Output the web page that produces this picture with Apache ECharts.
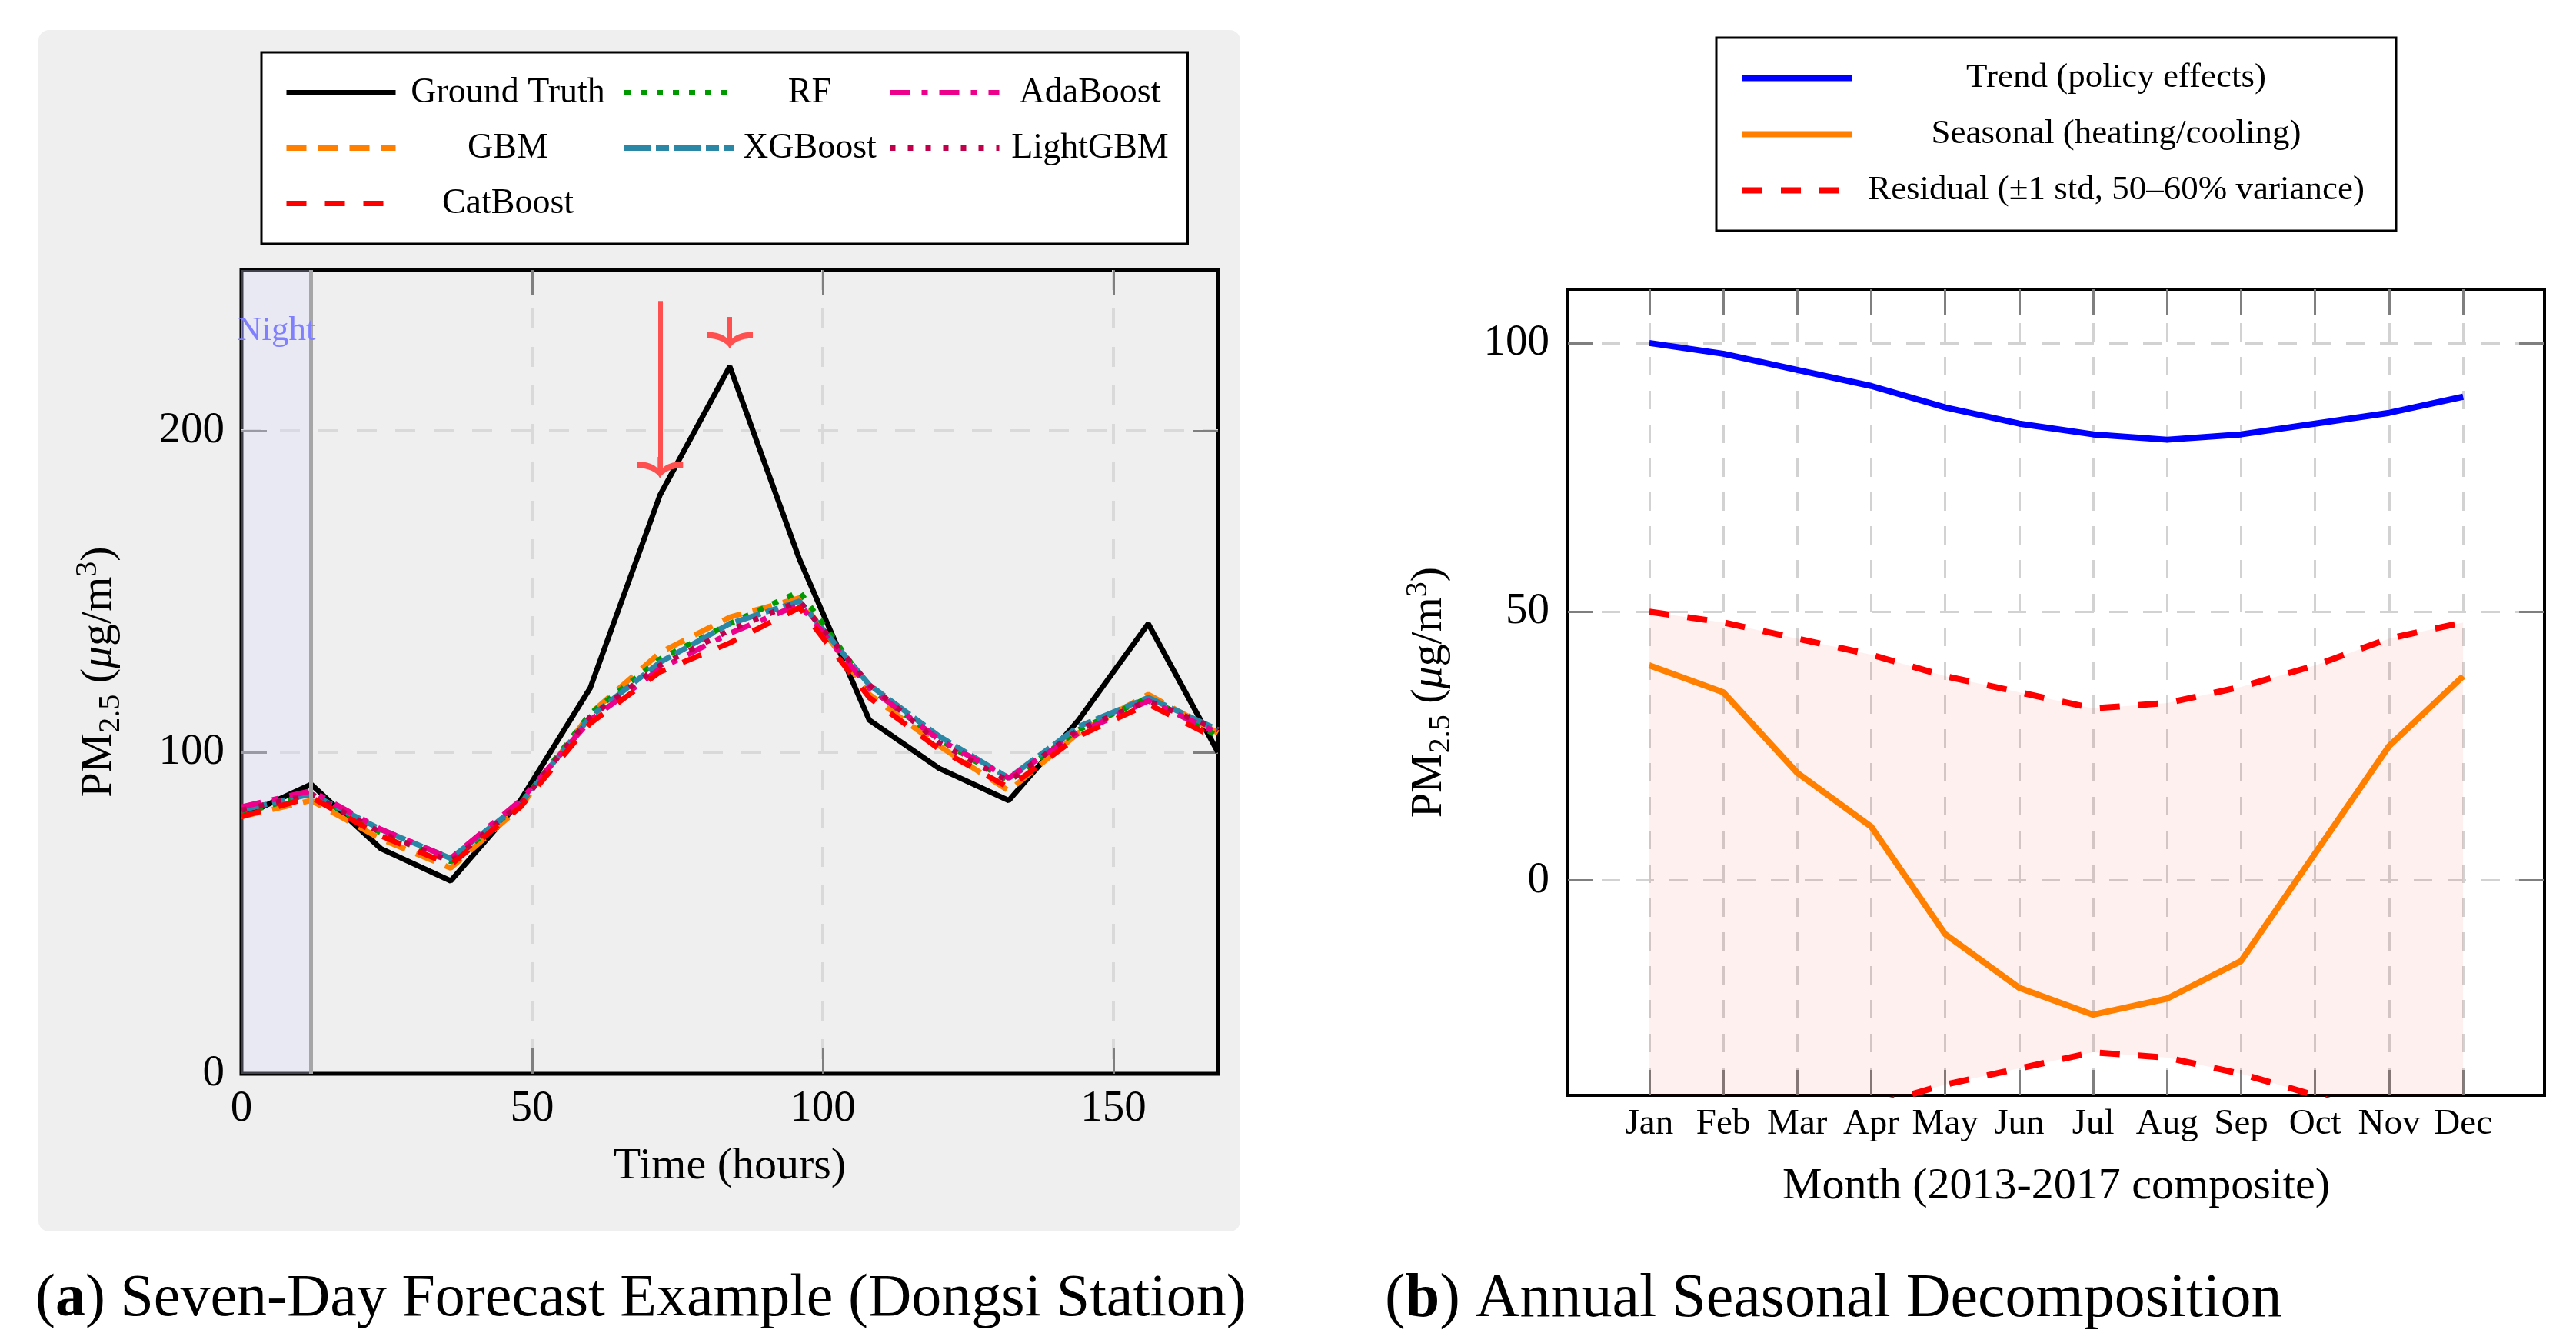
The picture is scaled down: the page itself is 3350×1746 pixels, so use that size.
<!DOCTYPE html>
<html>
<head>
<meta charset="utf-8">
<script src="https://cdn.jsdelivr.net/npm/echarts@6/dist/echarts.min.js"></script>
<style>
html, body { margin: 0; padding: 0; background: #fff; }
#chart { width: 3350px; height: 1746px; }
</style>
</head>
<body>
<div id="chart"></div>
<script>
// (a) 七天预测
const hours = [0, 12, 24, 36, 48, 60, 72, 84, 96, 108, 120, 132, 144, 156, 168];
const groundTruth = [80, 90, 70, 60, 85, 120, 180, 220, 160, 110, 95, 85, 110, 140, 100];
const gbm = [80, 85, 73, 64, 83, 112, 131, 142, 148, 118, 102, 88, 106, 118, 106];
const rf = [81, 87, 75, 66, 84, 112, 129, 140, 150, 120, 104, 91, 107, 117, 105];
const xgboost = [82, 87, 76, 67, 84, 111, 128, 140, 147, 121, 105, 92, 108, 117, 107];
const adaboost = [83, 88, 76, 67, 85, 110, 126, 137, 146, 120, 104, 92, 106, 116, 106];
const lightgbm = [82, 87, 75, 66, 84, 111, 127, 138, 147, 121, 103, 91, 107, 116, 107];
const catboost = [80, 86, 74, 65, 83, 109, 125, 134, 145, 117, 101, 89, 105, 115, 104];
const xLabelsA = [0, 50, 100, 150];
const xTicksA = [50, 100, 150];
const yLabelsA = [0, 100, 200];
const yTicksA = [100, 200];
const nightRange = [0, 12];
const arrowFrom = [[72, 240.4], [84, 235.4]];
const arrowTo = [[72, 188.5], [84, 228.8]];

// (b) 季节分解
const months = ['Jan', 'Feb', 'Mar', 'Apr', 'May', 'Jun', 'Jul', 'Aug', 'Sep', 'Oct', 'Nov', 'Dec'];
const monthPos = [1, 2, 3, 4, 5, 6, 7, 8, 9, 10, 11, 12];
const trend = [100, 98, 95, 92, 88, 85, 83, 82, 83, 85, 87, 90];
const seasonal = [40, 35, 20, 10, -10, -20, -25, -22, -15, 5, 25, 38];
const residualUpper = [50, 48, 45, 42, 38, 35, 32, 33, 36, 40, 45, 48];
const residualLower = [-50, -48, -45, -42, -38, -35, -32, -33, -36, -40, -45, -48];
const yTicksB = [0, 50, 100];

const FONT = "'Liberation Serif', 'DejaVu Serif', serif";
const legendOrderA = ['Ground Truth', 'RF', 'AdaBoost', 'GBM', 'XGBoost', 'LightGBM', 'CatBoost'];

const pairs = (xs, ys) => xs.map((x, i) => [x, ys[i]]);

// 箭头（弯曲的 V 形），尖端朝上，宽 60 高 28
const arrowHead = 'path://M30,0 C26,9 15,13 0,14 L0,22 C14,22 23,18 27,13 L27,28 L33,28 L33,13 C37,18 46,22 60,22 L60,14 C45,13 34,9 30,0 Z';

const gridLineA = { show: true, lineStyle: { color: '#d9d9d9', width: 4, type: [26, 24] } };
const gridLineB = { show: true, lineStyle: { color: '#d2d2d2', width: 3, type: [24, 20] } };
const tickStyle = { show: true, inside: true, length: 33, lineStyle: { color: '#7f7f7f', width: 3 } };
const ticks = (vals) => Object.assign({ customValues: vals }, tickStyle);
const noLine = { show: false, onZero: false };
const pmName = 'PM{sub|2.5} ({mu|μ}g/m{sup|3})';
const pmRich = {
	sub: { fontSize: 40, lineHeight: 40, verticalAlign: 'bottom', fontFamily: FONT, color: '#000' },
	sup: { fontSize: 40, lineHeight: 40, verticalAlign: 'top', fontFamily: FONT, color: '#000' },
	mu: { fontSize: 58, fontStyle: 'italic', fontFamily: FONT, color: '#000' },
};

function modelLine(name, data, color, dash) {
	return {
		name: name,
		type: 'line',
		xAxisIndex: 0,
		yAxisIndex: 0,
		data: pairs(hours, data),
		symbol: 'none',
		showSymbol: false,
		z: 4,
		lineStyle: { color: color, width: 7, type: dash },
		itemStyle: { color: color },
	};
}

function lineB(name, data, color, dash) {
	return {
		name: name,
		type: 'line',
		xAxisIndex: 2,
		yAxisIndex: 2,
		data: pairs(monthPos, data),
		symbol: 'none',
		showSymbol: false,
		z: 3,
		lineStyle: { color: color, width: 8, type: dash },
		itemStyle: { color: color },
	};
}

const chart = echarts.init(document.getElementById('chart'));

const option = {
	animation: false,
	backgroundColor: '#fff',
	graphic: [
		{
			type: 'rect',
			z: -10,
			silent: true,
			shape: { x: 50, y: 39, width: 1563, height: 1562, r: 14 },
			style: { fill: '#efefef' },
		},
	],
	title: [
		{
			text: '({b|a}) Seven-Day Forecast Example (Dongsi Station)',
			left: 41,
			top: 1640,
			textStyle: {
				fontFamily: FONT, fontSize: 78, fontWeight: 'normal', color: '#000', lineHeight: 90,
				rich: { b: { fontFamily: FONT, fontSize: 78, fontWeight: 'bold', color: '#000', lineHeight: 90 } },
			},
		},
		{
			text: '({b|b}) Annual Seasonal Decomposition',
			left: 1796,
			top: 1640,
			textStyle: {
				fontFamily: FONT, fontSize: 80, fontWeight: 'normal', color: '#000', lineHeight: 90,
				rich: { b: { fontFamily: FONT, fontSize: 80, fontWeight: 'bold', color: '#000', lineHeight: 90 } },
			},
		},
	],
	legend: [
		{
			orient: 'horizontal',
			left: 340,
			top: 68,
			width: 1215,
			padding: [20, 14, 20, 29],
			itemWidth: 142,
			itemHeight: 20,
			itemGap: 7,
			backgroundColor: '#fff',
			borderColor: '#000',
			borderWidth: 3,
			borderRadius: 0,
			selectedMode: false,
			data: legendOrderA,
			itemStyle: { opacity: 0 },
			lineStyle: { width: 7 },
			formatter: (name) => '{c' + (legendOrderA.indexOf(name) % 3) + '|' + name + '}',
			textStyle: {
				fontFamily: FONT, fontSize: 46, color: '#000', lineHeight: 65, height: 65,
				rich: {
					c0: { width: 282, height: 65, align: 'center', fontFamily: FONT, fontSize: 46, lineHeight: 65, color: '#000' },
					c1: { width: 188, height: 65, align: 'center', fontFamily: FONT, fontSize: 46, lineHeight: 65, color: '#000' },
					c2: { width: 226, height: 65, align: 'center', fontFamily: FONT, fontSize: 46, lineHeight: 65, color: '#000' },
				},
			},
		},
		{
			orient: 'vertical',
			left: 2232,
			top: 49,
			padding: [30, 26, 30, 30],
			itemWidth: 143,
			itemHeight: 20,
			itemGap: 28,
			backgroundColor: '#fff',
			borderColor: '#000',
			borderWidth: 3,
			borderRadius: 0,
			selectedMode: false,
			data: ['Trend (policy effects)', 'Seasonal (heating/cooling)', 'Residual (±1 std, 50–60% variance)'],
			itemStyle: { opacity: 0 },
			lineStyle: { width: 8 },
			formatter: (name) => '{c|' + name + '}',
			textStyle: {
				fontFamily: FONT, fontSize: 45, color: '#000',
				rich: { c: { width: 676, align: 'center', fontFamily: FONT, fontSize: 45, lineHeight: 50, color: '#000' } },
			},
		},
	],
	grid: [
		{ left: 314, top: 351, width: 1270, height: 1045, show: true, backgroundColor: 'transparent', borderColor: '#000', borderWidth: 5 },
		{ left: 2039, top: 376, width: 1270, height: 1048, show: true, backgroundColor: 'transparent', borderColor: '#000', borderWidth: 4 },
	],
	xAxis: [
		{
			type: 'value', gridIndex: 0, min: 0, max: 168,
			name: 'Time (hours)', nameLocation: 'middle', nameGap: 92,
			nameTextStyle: { fontFamily: FONT, fontSize: 58, color: '#000' },
			axisLine: noLine,
			axisTick: ticks(xTicksA),
			splitLine: gridLineA,
			axisLabel: { customValues: xLabelsA, fontFamily: FONT, fontSize: 57, color: '#000', margin: 18 },
		},
		{
			type: 'value', gridIndex: 0, min: 0, max: 168, position: 'top',
			axisLine: noLine, axisTick: ticks(xTicksA), splitLine: { show: false }, axisLabel: { show: false },
		},
		{
			type: 'value', gridIndex: 1, min: -0.1, max: 13.1,
			name: 'Month (2013-2017 composite)', nameLocation: 'middle', nameGap: 90,
			nameTextStyle: { fontFamily: FONT, fontSize: 58, color: '#000' },
			axisLine: noLine,
			axisTick: ticks(monthPos),
			splitLine: gridLineB,
			axisLabel: {
				customValues: monthPos, fontFamily: FONT, fontSize: 47, color: '#000', margin: 14,
				formatter: (v) => months[Math.round(v) - 1],
			},
		},
		{
			type: 'value', gridIndex: 1, min: -0.1, max: 13.1, position: 'top',
			axisLine: noLine, axisTick: ticks(monthPos), splitLine: { show: false }, axisLabel: { show: false },
		},
	],
	yAxis: [
		{
			type: 'value', gridIndex: 0, min: 0, max: 250,
			name: pmName, nameLocation: 'middle', nameGap: 150, nameRotate: 90,
			nameTextStyle: { fontFamily: FONT, fontSize: 58, color: '#000', lineHeight: 70, rich: pmRich },
			axisLine: noLine,
			axisTick: ticks(yTicksA),
			splitLine: gridLineA,
			axisLabel: { customValues: yLabelsA, fontFamily: FONT, fontSize: 57, color: '#000', margin: 22 },
		},
		{
			type: 'value', gridIndex: 0, min: 0, max: 250, position: 'right',
			axisLine: noLine, axisTick: ticks(yTicksA), splitLine: { show: false }, axisLabel: { show: false },
		},
		{
			type: 'value', gridIndex: 1, min: -40, max: 110,
			name: pmName, nameLocation: 'middle', nameGap: 145, nameRotate: 90,
			nameTextStyle: { fontFamily: FONT, fontSize: 58, color: '#000', lineHeight: 70, rich: pmRich },
			axisLine: noLine,
			axisTick: ticks(yTicksB),
			splitLine: gridLineB,
			axisLabel: { customValues: yTicksB, fontFamily: FONT, fontSize: 57, color: '#000', margin: 24 },
		},
		{
			type: 'value', gridIndex: 1, min: -40, max: 110, position: 'right',
			axisLine: noLine, axisTick: ticks(yTicksB), splitLine: { show: false }, axisLabel: { show: false },
		},
	],
	series: [
		// 夜间阴影 + 标注
		{
			name: 'night',
			type: 'line',
			xAxisIndex: 0,
			yAxisIndex: 0,
			data: [],
			z: 1,
			silent: true,
			markArea: {
				silent: true,
				itemStyle: { color: 'rgba(220,220,255,0.3)' },
				label: { show: false },
				data: [[{ xAxis: nightRange[0] }, { xAxis: nightRange[1] }]],
			},
			markLine: {
				silent: true,
				symbol: ['none', 'none'],
				label: { show: false },
				lineStyle: { color: '#a6a6a6', width: 5, type: 'solid' },
				data: [{ xAxis: nightRange[1] }],
			},
			markPoint: {
				silent: true,
				symbol: 'circle',
				symbolSize: 0,
				label: {
					show: true, position: 'inside', formatter: 'Night',
					fontFamily: FONT, fontSize: 45, color: '#8080ff',
				},
				data: [{ coord: [6, 231] }],
			},
		},
		{
			name: 'Ground Truth',
			type: 'line',
			xAxisIndex: 0,
			yAxisIndex: 0,
			data: pairs(hours, groundTruth),
			symbol: 'none',
			showSymbol: false,
			z: 3,
			lineStyle: { color: '#000', width: 7, type: 'solid' },
			itemStyle: { color: '#000' },
		},
		modelLine('GBM', gbm, '#ff8000', [26, 15]),
		modelLine('RF', rf, '#009a00', [8, 13]),
		modelLine('XGBoost', xgboost, '#2a87a6', [34, 7, 17, 7]),
		modelLine('AdaBoost', adaboost, '#ec008c', [26, 15, 8, 15]),
		modelLine('LightGBM', lightgbm, '#c0004a', [7, 16]),
		modelLine('CatBoost', catboost, '#ff0000', [26, 24]),
		// 红色箭头
		{
			name: 'arrows',
			type: 'line',
			xAxisIndex: 0,
			yAxisIndex: 0,
			data: [],
			z: 6,
			silent: true,
			markLine: {
				silent: true,
				label: { show: false },
				lineStyle: { color: '#ff5050', width: 6, type: 'solid' },
				data: arrowFrom.map((p, i) => [
					{ coord: p, symbol: 'none' },
					{ coord: arrowTo[i], symbol: arrowHead, symbolSize: [60, 28] },
				]),
			},
		},
		// (b) 残差带：上下界之间的多边形
		{
			name: 'band',
			type: 'custom',
			xAxisIndex: 2,
			yAxisIndex: 2,
			z: 1,
			silent: true,
			clip: true,
			data: monthPos.map((m, i) => [m, residualUpper[i], residualLower[i]]),
			renderItem: (params, api) => {
				if (params.dataIndexInside !== 0) return null;
				const n = params.dataInsideLength;
				const top = [];
				const bottom = [];
				for (let j = 0; j < n; j++) {
					top.push(api.coord([api.value(0, j), api.value(1, j)]));
					bottom.unshift(api.coord([api.value(0, j), api.value(2, j)]));
				}
				return {
					type: 'polygon',
					shape: { points: top.concat(bottom) },
					style: { fill: 'rgba(255,0,0,0.06)' },
				};
			},
		},
		lineB('Trend (policy effects)', trend, '#0000ff', 'solid'),
		lineB('Seasonal (heating/cooling)', seasonal, '#ff8000', 'solid'),
		lineB('Residual (±1 std, 50–60% variance)', residualUpper, '#ff0000', [26, 24]),
		lineB('Residual (±1 std, 50–60% variance)', residualLower, '#ff0000', [26, 24]),
	],
};

chart.setOption(option);
</script>
</body>
</html>
